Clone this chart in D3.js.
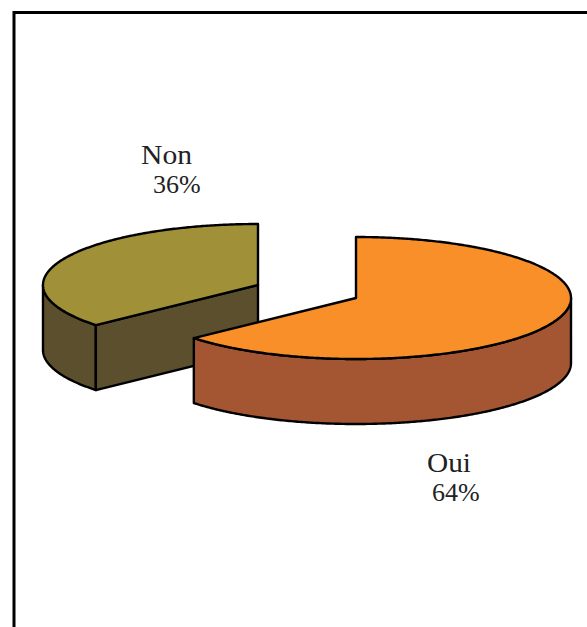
<!DOCTYPE html>
<html><head><meta charset="utf-8">
<script src="https://cdn.jsdelivr.net/npm/d3@7"></script>
<style>html,body{margin:0;padding:0;background:#fff}svg{display:block}</style>
</head><body><svg id="c" width="587" height="627"></svg>
<script>
const categories = ["Oui", "Non"];
const values = [63.6, 36.4];
const percentLabels = ["64%", "36%"];
const topColors = ["#F98F28", "#A09038"];
const sideColors = ["#A35631", "#5C4F2E"];

const svg = d3.select("#c");
svg.append("path").attr("d","M587 12.5H14V627").attr("fill","none").attr("stroke","#000").attr("stroke-width",3);

const pie = d3.pie().sort(null).value(d=>d);
const arcs = pie(values);

const rx = 215, ry = 61, depth = 65;
const centers = [[356,298],[258,285]];
const xS = d3.scaleLinear().domain([-1,1]).range([-rx,rx]);
const yS = d3.scaleLinear().domain([-1,1]).range([-ry,ry]);
const pt = (c,a,dz=0)=>[c[0]+xS(Math.sin(a)), c[1]+yS(-Math.cos(a))+dz];
const line = d3.line();
const samples = (a0,a1)=>{const n=Math.max(2,Math.ceil(Math.abs(a1-a0)/0.01));
  return d3.range(n+1).map(i=>a0+(a1-a0)*i/n);};

// draw Non first, Oui on top
[1,0].forEach(i=>{
  const c = centers[i], s = arcs[i];
  const g = svg.append("g").attr("stroke","#000").attr("stroke-width",2.4).attr("stroke-linejoin","round");
  const a0=s.startAngle, a1=s.endAngle;
  const w0=Math.max(a0,Math.PI/2), w1=Math.min(a1,3*Math.PI/2);
  if(w1>w0){
    const ang=samples(w0,w1);
    const wall=[...ang.map(a=>pt(c,a)),...ang.slice().reverse().map(a=>pt(c,a,depth))];
    g.append("path").attr("d",line(wall)+"Z").attr("fill",sideColors[i]);
  }
  if(i===1){
    const p=pt(c,a0), q=[c[0],c[1]];
    g.append("path").attr("d",line([p,q,[q[0],q[1]+depth],[p[0],p[1]+depth]])+"Z").attr("fill",sideColors[i]);
  }
  const top=[c,...samples(a0,a1).map(a=>pt(c,a))];
  g.append("path").attr("d",line(top)+"Z").attr("fill",topColors[i]);
});

const labelPos = [[[427,472],[432,501]],[[141,164],[153,193]]];
const nameWidths = [44,51];
categories.forEach((name,i)=>{
  svg.append("text").attr("x",labelPos[i][0][0]).attr("y",labelPos[i][0][1])
    .attr("font-family","'Liberation Serif',serif").attr("font-size",28).attr("fill","#222")
    .attr("textLength",nameWidths[i]).attr("lengthAdjust","spacingAndGlyphs").text(name);
  svg.append("text").attr("x",labelPos[i][1][0]).attr("y",labelPos[i][1][1])
    .attr("font-family","'Liberation Serif',serif").attr("font-size",26).attr("fill","#222").text(percentLabels[i]);
});
</script></body></html>
